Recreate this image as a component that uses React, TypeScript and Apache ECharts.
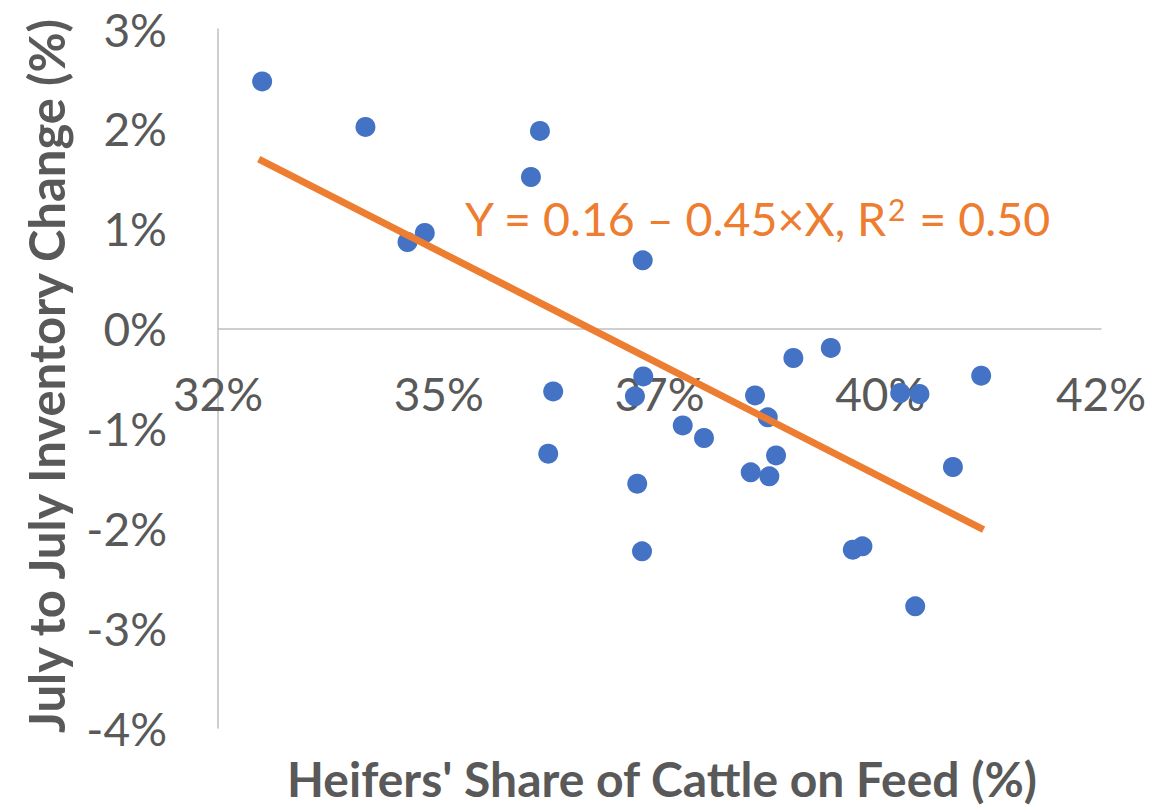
import React, { useEffect, useRef } from "react";
import * as echarts from "echarts";

// Heifers' share of cattle on feed (x) vs July-to-July inventory change (y)
const heiferShare = [
  0.325, 0.3367, 0.34146, 0.34342, 0.35646, 0.35544, 0.35796, 0.3574,
  0.3681, 0.36816, 0.36722, 0.36748, 0.36802, 0.37263, 0.37504, 0.38082,
  0.38226, 0.3832, 0.38033, 0.38244, 0.38516, 0.3894, 0.39189, 0.39298,
  0.39726, 0.39944, 0.39896, 0.40323, 0.40643,
];
const inventoryChange = [
  0.02475, 0.02019, 0.00867, 0.00957, 0.01979, 0.01518, -0.00629, -0.01253,
  0.00683, -0.00479, -0.00679, -0.01553, -0.02231, -0.0097, -0.01096, -0.00669,
  -0.00889, -0.0127, -0.0144, -0.0148, -0.00295, -0.00194, -0.02214, -0.02181,
  -0.00645, -0.00655, -0.02782, -0.01386, -0.00472,
];

// Fitted trend line end points
const trendX = [0.32461, 0.4067];
const trendY = [0.01698, -0.02014];

const xTickValues = [0.32, 0.345, 0.37, 0.395, 0.42];
const xTickLabels = ["32%", "35%", "37%", "40%", "42%"];
const yTickLabels = ["-4%", "-3%", "-2%", "-1%", "0%", "1%", "2%", "3%"];

const xTitle = "Heifers' Share of Cattle on Feed (%)";
const yTitle = "July to July Inventory Change (%)";
const equationText = "Y = 0.16 \u2013 0.45\u00d7X, R{sup|2} = 0.50";

const FONT = "Lato, 'Open Sans', sans-serif";
const GREY = "#595959";

export default function App() {
  const ref = useRef<HTMLDivElement>(null);

  useEffect(() => {
    if (!ref.current) return;
    const chart = echarts.init(ref.current, null, { renderer: "svg" });
    const points = heiferShare.map((x, i) => [x, inventoryChange[i]]);
    const trend = trendX.map((x, i) => [x, trendY[i]]);

    chart.setOption({
      animation: false,
      backgroundColor: "#ffffff",
      grid: {
        left: 218,
        right: 75,
        top: 29,
        bottom: 80,
        outerBoundsMode: "none",
        containLabel: false,
      },
      xAxis: {
        type: "value",
        min: 0.32,
        max: 0.42,
        axisLine: { show: true, onZero: true, lineStyle: { color: "#BFBFBF", width: 1.5 } },
        axisTick: { show: false },
        splitLine: { show: false },
        axisLabel: {
          customValues: xTickValues,
          showMinLabel: true,
          showMaxLabel: true,
          // labels sit just under the zero line, as in the reference
          margin: -358,
          color: GREY,
          fontFamily: FONT,
          fontSize: 46,
          formatter: (v: number) => {
            const idx = xTickValues.findIndex((t) => Math.abs(t - v) < 1e-6);
            return idx >= 0 ? xTickLabels[idx] : "";
          },
        },
      },
      yAxis: {
        type: "value",
        min: -0.04,
        max: 0.03,
        interval: 0.01,
        axisLine: { show: true, onZero: false, lineStyle: { color: "#BFBFBF", width: 1.5 } },
        axisTick: { show: false },
        splitLine: { show: false },
        axisLabel: {
          margin: 51,
          color: GREY,
          fontFamily: FONT,
          fontSize: 46,
          padding: [0, 0, 8, 0],
          formatter: (v: number) => {
            const idx = Math.round(v * 100) + 4;
            return yTickLabels[idx] ?? "";
          },
        },
      },
      series: [
        {
          type: "scatter",
          data: points,
          symbol: "circle",
          symbolSize: 20,
          itemStyle: { color: "#4472C4", opacity: 1 },
          z: 2,
        },
        {
          type: "line",
          data: trend,
          showSymbol: false,
          symbol: "none",
          lineStyle: { color: "#ED7D31", width: 7, cap: "butt" },
          z: 3,
        },
      ],
      graphic: [
        {
          type: "text",
          x: 465,
          y: 218,
          style: {
            text: equationText,
            fill: "#ED7D31",
            fontFamily: FONT,
            fontSize: 46.5,
            align: "left",
            verticalAlign: "middle",
            rich: {
              sup: {
                fontFamily: FONT,
                fontSize: 30,
                fill: "#ED7D31",
                verticalAlign: "top",
                padding: [0, 2, 18, 0],
              },
            },
          },
        },
        {
          type: "text",
          x: 662,
          y: 778,
          style: {
            text: xTitle,
            fill: GREY,
            font: `bold 48px ${FONT}`,
            align: "center",
            verticalAlign: "middle",
          },
        },
        {
          type: "text",
          x: 46,
          y: 376,
          rotation: Math.PI / 2,
          style: {
            text: yTitle,
            fill: GREY,
            font: `bold 49px ${FONT}`,
            align: "center",
            verticalAlign: "middle",
          },
        },
      ],
    });

    return () => chart.dispose();
  }, []);

  return (
    <div
      ref={ref}
      style={{ position: "fixed", left: 0, top: 0, width: 1176, height: 808 }}
    />
  );
}
